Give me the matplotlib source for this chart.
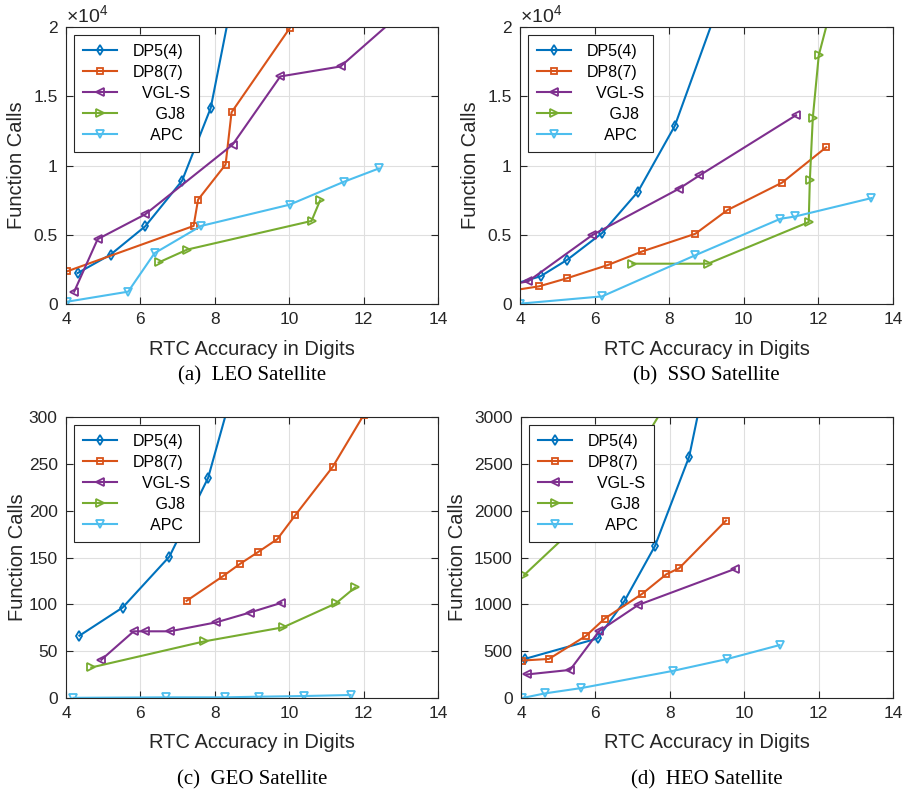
import matplotlib
matplotlib.use("Agg")
import matplotlib.pyplot as plt
from matplotlib.ticker import FuncFormatter

plt.rcParams['font.family'] = ['Liberation Sans', 'DejaVu Sans']
plt.rcParams['mathtext.fontset'] = 'custom'
plt.rcParams['mathtext.rm'] = 'Liberation Sans'

series_names = ["DP5(4)", "DP8(7)", "VGL-S", "GJ8", "APC"]
legend_labels = ["DP5(4)", "DP8(7)", "  VGL-S", "     GJ8", "    APC"]
colors = ["#0072BD", "#D95319", "#7E2F8E", "#77AC30", "#4DBEEE"]
markers = ["d", "s", "<", ">", "v"]
marker_sizes = [5.5, 4.5, 6, 6, 6]

# (a) LEO Satellite
leo_dp5_x = [4.31, 5.20, 6.13, 7.12, 7.89, 8.70]
leo_dp5_y = [2230, 3570, 5610, 8900, 14150, 25170]
leo_dp8_x = [4.02, 7.43, 7.55, 8.29, 8.45, 10.01]
leo_dp8_y = [2350, 5635, 7530, 10070, 13840, 19900]
leo_vgl_x = [4.22, 4.85, 6.13, 8.48, 9.76, 11.38, 13.0]
leo_vgl_y = [890, 4680, 6475, 11510, 16430, 17150, 20970]
leo_gj8_x = [6.49, 7.26, 10.60, 10.83]
leo_gj8_y = [3000, 3930, 5995, 7480]
leo_apc_x = [4.04, 5.67, 6.38, 7.63, 10.01, 11.47, 12.41]
leo_apc_y = [170, 890, 3670, 5635, 7170, 8825, 9785]

# (b) SSO Satellite
sso_dp5_x = [3.85, 4.55, 5.27, 6.20, 7.16, 8.15, 9.40]
sso_dp5_y = [1450, 2000, 3200, 5120, 8100, 12860, 22160]
sso_dp8_x = [3.85, 4.51, 5.25, 6.35, 7.28, 8.70, 9.56, 11.03, 12.21]
sso_dp8_y = [1000, 1275, 1850, 2810, 3800, 5070, 6780, 8770, 11320]
sso_vgl_x = [3.85, 4.22, 5.94, 8.26, 8.81, 11.40]
sso_vgl_y = [1450, 1640, 4980, 8320, 9280, 13630]
sso_gj8_x = [7.01, 9.04, 11.74, 11.77, 11.85, 12.01, 12.50]
sso_gj8_y = [2910, 2910, 5915, 8920, 13440, 17960, 23000]
sso_apc_x = [4.00, 6.20, 8.69, 10.98, 11.38, 13.42]
sso_apc_y = [25, 550, 3510, 6150, 6320, 7645]

# (c) GEO Satellite
geo_dp5_x = [4.36, 5.52, 6.78, 7.82, 8.60]
geo_dp5_y = [66.5, 96.5, 151, 235, 346]
geo_dp8_x = [7.24, 8.21, 8.67, 9.17, 9.68, 10.16, 11.17, 12.00]
geo_dp8_y = [103.7, 129.8, 143, 156, 169.6, 195, 246.8, 302]
geo_vgl_x = [4.95, 5.82, 6.13, 6.79, 8.04, 8.94, 9.79]
geo_vgl_y = [40.8, 71.2, 71.2, 71.2, 80.8, 91.2, 101.6]
geo_gj8_x = [4.68, 7.71, 9.84, 11.25, 11.77]
geo_gj8_y = [32.6, 60.4, 75.5, 100.9, 118]
geo_apc_x = [4.20, 6.69, 8.27, 9.20, 10.40, 11.65]
geo_apc_y = [0.2, 0.7, 0.7, 1.4, 2.1, 3.2]

# (d) HEO Satellite
heo_dp5_x = [4.10, 6.06, 6.78, 7.60, 8.52, 8.90]
heo_dp5_y = [417, 636, 1035, 1622, 2576, 3300]
heo_dp8_x = [4.04, 4.75, 5.75, 6.25, 7.26, 7.91, 8.25, 9.51]
heo_dp8_y = [400, 417, 664, 848, 1113, 1322, 1385, 1894]
heo_vgl_x = [4.15, 5.32, 6.10, 7.15, 9.75]
heo_vgl_y = [251, 300, 714, 993, 1378]
heo_gj8_x = [4.08, 6.45, 8.20]
heo_gj8_y = [1311, 2195, 3338]
heo_apc_x = [4.04, 4.64, 5.62, 8.09, 9.55, 10.95]
heo_apc_y = [0, 49, 106, 290, 417, 565]

panels = [
    dict(pos=(66, 27, 438, 304), ymax=20000, yticks=[0, 5000, 10000, 15000, 20000], sci=True,
         caption="(a)  LEO Satellite", ylab_x=-0.132, xlab_y=-0.166, cap_y=-0.26,
         data=[(leo_dp5_x, leo_dp5_y), (leo_dp8_x, leo_dp8_y), (leo_vgl_x, leo_vgl_y),
               (leo_gj8_x, leo_gj8_y), (leo_apc_x, leo_apc_y)]),
    dict(pos=(520, 27, 893, 304), ymax=20000, yticks=[0, 5000, 10000, 15000, 20000], sci=True,
         caption="(b)  SSO Satellite", ylab_x=-0.134, xlab_y=-0.166, cap_y=-0.26,
         data=[(sso_dp5_x, sso_dp5_y), (sso_dp8_x, sso_dp8_y), (sso_vgl_x, sso_vgl_y),
               (sso_gj8_x, sso_gj8_y), (sso_apc_x, sso_apc_y)]),
    dict(pos=(66, 417, 438, 698), ymax=300, yticks=[0, 50, 100, 150, 200, 250, 300], sci=False,
         caption="(c)  GEO Satellite", ylab_x=-0.13, xlab_y=-0.160, cap_y=-0.292,
         data=[(geo_dp5_x, geo_dp5_y), (geo_dp8_x, geo_dp8_y), (geo_vgl_x, geo_vgl_y),
               (geo_gj8_x, geo_gj8_y), (geo_apc_x, geo_apc_y)]),
    dict(pos=(521, 417, 893, 698), ymax=3000, yticks=[0, 500, 1000, 1500, 2000, 2500, 3000], sci=False,
         caption="(d)  HEO Satellite", ylab_x=-0.172, xlab_y=-0.160, cap_y=-0.292,
         data=[(heo_dp5_x, heo_dp5_y), (heo_dp8_x, heo_dp8_y), (heo_vgl_x, heo_vgl_y),
               (heo_gj8_x, heo_gj8_y), (heo_apc_x, heo_apc_y)]),
]

W, H = 910, 794
fig = plt.figure(figsize=(W / 100, H / 100), dpi=100)
axc = "#262626"

for p in panels:
    l, t, r, b = p["pos"]
    ax = fig.add_axes([l / W, 1 - b / H, (r - l) / W, (b - t) / H])
    for (x, y), lab, c, m, ms in zip(p["data"], legend_labels, colors, markers, marker_sizes):
        ax.plot(x, y, color=c, marker=m, markersize=ms, markerfacecolor='none',
                markeredgewidth=1.3, linewidth=1.5, label=lab)
    ax.set_xlim(4, 14)
    ax.set_ylim(0, p["ymax"])
    ax.set_xticks([4, 6, 8, 10, 12, 14])
    ax.set_yticks(p["yticks"])
    if p["sci"]:
        ax.yaxis.set_major_formatter(FuncFormatter(lambda v, pos: f"{v/1e4:g}"))
        ax.text(0.0, 1.005, r"$\times\mathregular{10^4}$", transform=ax.transAxes,
                ha='left', va='bottom', fontsize=14, color=axc)
    ax.grid(True, color="#dfdfdf", linewidth=0.8)
    ax.set_axisbelow(True)
    ax.tick_params(direction='in', length=5, width=0.8, colors=axc, labelsize=12.5,
                   top=True, right=True, labelcolor=axc)
    ax.tick_params(axis='x', pad=6)
    ax.tick_params(axis='y', pad=6)
    for s in ax.spines.values():
        s.set_color(axc)
        s.set_linewidth(0.8)
    ax.set_xlabel("RTC Accuracy in Digits", fontsize=14.5, color=axc)
    ax.xaxis.label.set_va('center')
    ax.xaxis.set_label_coords(0.5, p["xlab_y"])
    ax.set_ylabel("Function Calls", fontsize=14.5, color=axc)
    ax.yaxis.label.set_va('center')
    ax.yaxis.set_label_coords(p["ylab_x"], 0.5)
    leg = ax.legend(loc='upper left', fontsize=11.5, frameon=True, fancybox=False,
                    edgecolor=axc, framealpha=1, handlelength=2.15, handletextpad=1.0,
                    borderaxespad=0.5, labelspacing=0.38, borderpad=0.55)
    leg.get_frame().set_linewidth(0.8)
    ax.text(0.5, p["cap_y"], p["caption"], transform=ax.transAxes, ha='center', va='center',
            fontsize=15, family='Liberation Serif', color='black')

fig.savefig("out.png", dpi=100)
